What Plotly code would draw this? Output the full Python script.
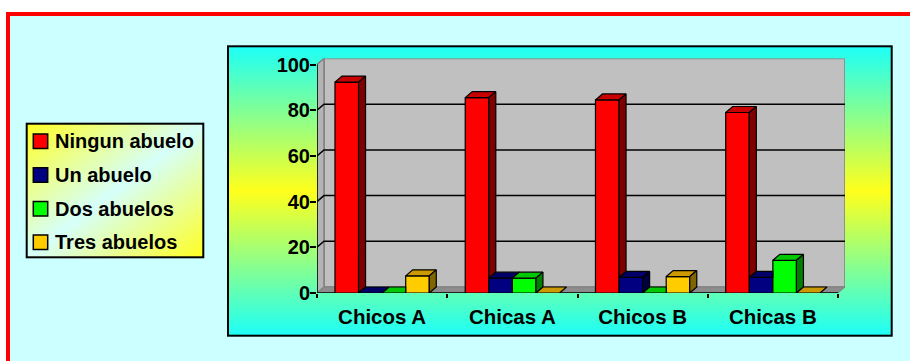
import base64
import plotly.graph_objects as go

# ---- data -------------------------------------------------------------
categories = ["Chicos A", "Chicas A", "Chicos B", "Chicas B"]
series_names = ["Ningun abuelo", "Un abuelo", "Dos abuelos", "Tres abuelos"]
ningun_abuelo = [92.3, 85.5, 84.5, 79.0]
un_abuelo = [0.0, 6.5, 6.8, 6.8]
dos_abuelos = [0.0, 6.5, 0.0, 14.3]
tres_abuelos = [7.5, 0.0, 7.2, 0.0]
y_ticks = [0, 20, 40, 60, 80, 100]

series_values = [ningun_abuelo, un_abuelo, dos_abuelos, tres_abuelos]

# ---- styling ------------------------------------------------------------
front_colors = ["#FF0000", "#000080", "#00FF00", "#FFCC00"]
top_colors = ["#C80000", "#000066", "#00C800", "#CC9900"]
side_colors = ["#800000", "#000040", "#008000", "#806600"]
FONT = "Liberation Sans, Arial, sans-serif"
FONT_SIZE = 20

W, H = 910, 361
AX_LEFT, AX_RIGHT = 317, 838      # front edge of the category axis (px)
AX_BASE, AX_TOP = 293, 64.5       # pixel rows of 0 and 100 on the front plane
DEPTH_PX = (7, 6)                 # oblique depth offset (right, up)
BARGAP = 0.276

n_cat = len(categories)
n_ser = len(series_values)
cat_per_px = n_cat / (AX_RIGHT - AX_LEFT)
val_per_px = 100 / (AX_BASE - AX_TOP)
ddx = DEPTH_PX[0] * cat_per_px
ddy = DEPTH_PX[1] * val_per_px

x_lo, x_hi = -0.5, n_cat - 0.5
x_range = [x_lo, x_hi + ddx]
y_range = [0, 100 + ddy]
x_domain = [AX_LEFT / W, (AX_RIGHT + DEPTH_PX[0]) / W]
y_domain = [1 - AX_BASE / H, 1 - (AX_TOP - DEPTH_PX[1]) / H]

bar_w = (1 - BARGAP) / n_ser
cat_idx = list(range(n_cat))

# ---- background: page frame, gradient chart area, gradient key box ----
svg = f"""<svg xmlns="http://www.w3.org/2000/svg" width="{W}" height="{H}" viewBox="0 0 {W} {H}">
<defs>
<linearGradient id="area" x1="0" y1="0" x2="0" y2="1">
<stop offset="0" stop-color="#1CFFF8"/><stop offset="0.5" stop-color="#FFFF1C"/><stop offset="1" stop-color="#1CFFF8"/>
</linearGradient>
<linearGradient id="key" x1="0" y1="0" x2="1" y2="1">
<stop offset="0" stop-color="#FFFF22"/><stop offset="0.5" stop-color="#D6FFFA"/><stop offset="1" stop-color="#FFFF22"/>
</linearGradient>
</defs>
<rect width="{W}" height="{H}" fill="#FFFFFF"/>
<rect x="8" y="14" width="{W}" height="{H}" fill="#CCFFFF" stroke="#FF0000" stroke-width="4"/>
<rect x="228" y="46.3" width="663.7" height="289.4" fill="url(#area)" stroke="#000000" stroke-width="2"/>
<rect x="26.7" y="123.7" width="176.6" height="133.6" fill="url(#key)" stroke="#000000" stroke-width="2"/>
</svg>"""
bg_source = "data:image/svg+xml;base64," + base64.b64encode(svg.encode()).decode()

fig = go.Figure()

# front faces of the columns
for name, vals, col in zip(series_names, series_values, front_colors):
    fig.add_trace(go.Bar(
        x=cat_idx, y=vals, name=name,
        marker=dict(color=col, line=dict(color="black", width=1.2)),
        hoverinfo="skip", showlegend=False,
    ))


def poly(xs, ys, pts):
    for px, py in pts:
        xs.append(px)
        ys.append(py)
    xs.append(pts[0][0])
    ys.append(pts[0][1])
    xs.append(None)
    ys.append(None)


# top and right-hand faces, trimmed where the neighbouring column hides them
for k, vals in enumerate(series_values):
    tx, ty, sx, sy = [], [], [], []
    for c in cat_idx:
        v = vals[c]
        xl = c - (1 - BARGAP) / 2 + k * bar_w
        xr = xl + bar_w
        vn = series_values[k + 1][c] if k + 1 < n_ser else 0.0
        has_next = k + 1 < n_ser

        pts = [(xl, v), (xl + ddx, v + ddy)]
        if has_next and vn > v:
            if vn < v + ddy:
                pts += [(xr + ddx, v + ddy), (xr + (vn - v) / ddy * ddx, vn), (xr, vn), (xr, v)]
            else:
                pts += [(xr, v + ddy), (xr, v)]
        else:
            pts += [(xr + ddx, v + ddy), (xr, v)]
        poly(tx, ty, pts)

        base = vn if has_next else 0.0
        if v > base:
            poly(sx, sy, [(xr, base), (xr, v), (xr + ddx, v + ddy), (xr + ddx, base + ddy)])

    for xs, ys, col in ((tx, ty, top_colors[k]), (sx, sy, side_colors[k])):
        if xs:
            fig.add_trace(go.Scatter(
                x=xs, y=ys, mode="lines", fill="toself", fillcolor=col,
                line=dict(color="black", width=1.2),
                hoverinfo="skip", showlegend=False,
            ))

# ---- walls, floor and gridlines -----------------------------------------
shapes = []
shapes.append(dict(type="rect", xref="x", yref="y", layer="below",
                   x0=x_lo + ddx, x1=x_hi + ddx, y0=ddy, y1=100 + ddy,
                   fillcolor="#C0C0C0", line=dict(color="#808080", width=1.5)))
shapes.append(dict(type="path", xref="x", yref="y", layer="below",
                   path=f"M{x_lo},0 L{x_lo},100 L{x_lo + ddx},{100 + ddy} L{x_lo + ddx},{ddy} Z",
                   fillcolor="#B4B4B4", line=dict(color="#808080", width=1.5)))
shapes.append(dict(type="path", xref="x", yref="y", layer="below",
                   path=f"M{x_lo},0 L{x_lo + ddx},{ddy} L{x_hi + ddx},{ddy} L{x_hi},0 Z",
                   fillcolor="#8C8C8C", line=dict(color="#808080", width=1)))
for t in y_ticks[1:-1]:
    shapes.append(dict(type="path", xref="x", yref="y", layer="below",
                       path=f"M{x_lo},{t} L{x_lo + ddx},{t + ddy} L{x_hi + ddx},{t + ddy}",
                       line=dict(color="black", width=1.5)))
# front axis lines
shapes.append(dict(type="line", xref="x", yref="y", layer="below",
                   x0=x_lo, x1=x_lo, y0=0, y1=100, line=dict(color="black", width=1.5)))
shapes.append(dict(type="line", xref="x", yref="y", layer="below",
                   x0=x_lo, x1=x_hi, y0=0, y1=0, line=dict(color="black", width=1.5)))

# ---- key ------------------------------------------------------------------
key_rows = [141.3, 175.0, 208.7, 242.2]
key_sq = 14.4
annotations = []
for name, col, yc in zip(series_names, front_colors, key_rows):
    shapes.append(dict(type="rect", xref="paper", yref="paper", layer="above",
                       x0=33.3 / W, x1=(33.3 + key_sq) / W,
                       y0=1 - (yc + key_sq / 2) / H, y1=1 - (yc - key_sq / 2) / H,
                       fillcolor=col, line=dict(color="black", width=1.5)))
    annotations.append(dict(text=name, xref="paper", yref="paper",
                            x=52.5 / W, y=1 - yc / H, xanchor="left", yanchor="middle",
                            showarrow=False,
                            font=dict(family=FONT, size=FONT_SIZE, color="black", weight="bold")))

fig.update_layout(
    width=W, height=H, autosize=False,
    margin=dict(l=0, r=0, t=0, b=0, pad=0),
    paper_bgcolor="#FFFFFF", plot_bgcolor="rgba(0,0,0,0)",
    barmode="group", bargap=BARGAP, bargroupgap=0,
    showlegend=False,
    font=dict(family=FONT, size=FONT_SIZE, color="black", weight="bold"),
    images=[dict(source=bg_source, xref="paper", yref="paper", x=0, y=1,
                 sizex=1, sizey=1, xanchor="left", yanchor="top",
                 sizing="stretch", layer="below")],
    shapes=shapes,
    annotations=annotations,
    xaxis=dict(domain=x_domain, range=x_range, automargin=False,
               tickvals=cat_idx, ticktext=categories, ticks="",
               ticklabelstandoff=9,
               minor=dict(tick0=-0.5, dtick=1, ticks="outside", ticklen=4,
                          tickcolor="black", tickwidth=1.5),
               showgrid=False, zeroline=False, showline=False, fixedrange=True,
               tickfont=dict(family=FONT, size=FONT_SIZE + 0.5, color="black", weight="bold")),
    yaxis=dict(domain=y_domain, range=y_range, automargin=False,
               tickvals=y_ticks, ticks="outside", ticklen=6, tickwidth=1.5,
               ticklabelstandoff=-4,
               tickcolor="black", showgrid=False, zeroline=False, showline=False,
               fixedrange=True,
               tickfont=dict(family=FONT, size=FONT_SIZE, color="black", weight="bold")),
)

fig.write_html("out.html")
